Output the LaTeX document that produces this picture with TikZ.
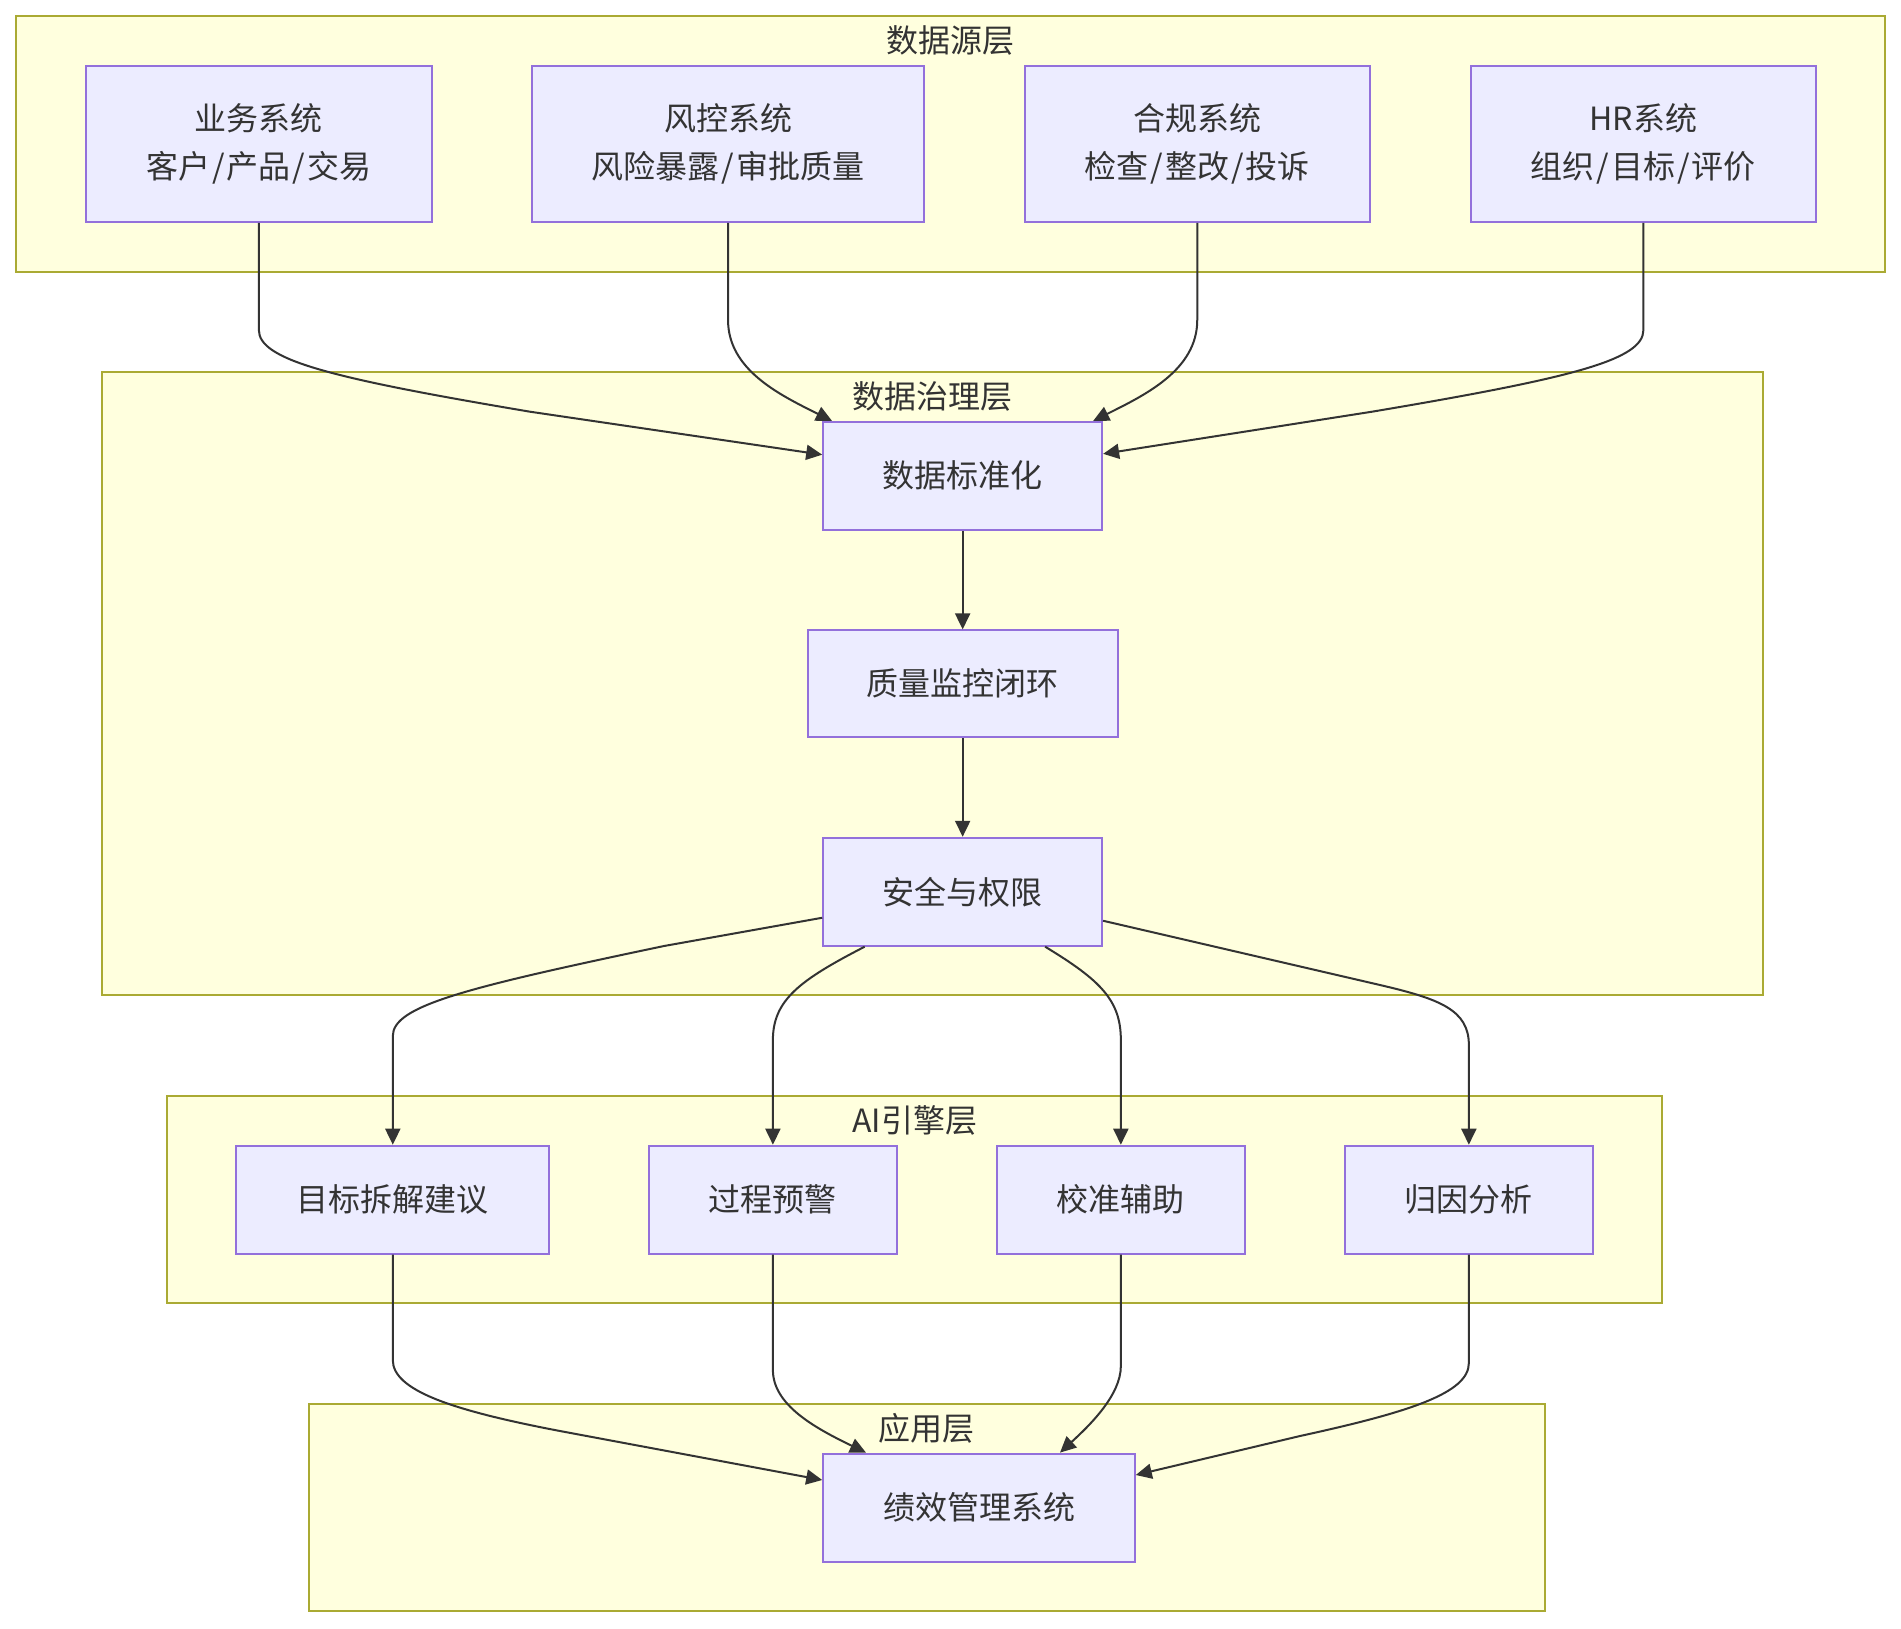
\documentclass[tikz,border=0pt]{standalone}
\usepackage{fontspec}
\setmainfont{Noto Sans CJK SC}
\usetikzlibrary{arrows.meta}
\definecolor{clfill}{HTML}{FFFFDE}
\definecolor{cldraw}{HTML}{AAAA33}
\definecolor{ndfill}{HTML}{ECECFF}
\definecolor{nddraw}{HTML}{9370DB}
\definecolor{txt}{HTML}{333333}
\newcommand\slh{\kern2pt/\kern2pt}
\begin{document}
\begin{tikzpicture}[x=1pt,y=-1pt,
 cluster/.style={rectangle,fill=clfill,draw=cldraw,line width=2pt,inner sep=0pt},
 cltext/.style={text=txt,font=\fontsize{32}{48}\selectfont,inner sep=0pt},
 nd/.style={rectangle,fill=ndfill,draw=nddraw,line width=2pt,text=txt,font=\fontsize{32}{48}\selectfont,align=center,inner sep=0pt},
 edge/.style={draw=txt,line width=2pt,-{Triangle[length=16pt,width=15pt]}}]
\useasboundingbox[fill=white] (0,0) rectangle (1901,1628);
% clusters
\node[cluster,minimum width=1869.5pt,minimum height=255.8pt] (c1) at (950.55,143.7) {};
\node[cluster,minimum width=1661pt,minimum height=623.2pt] (c2) at (932.3,683.8) {};
\node[cluster,minimum width=1494.9pt,minimum height=207.3pt] (c3) at (914.75,1199.65) {};
\node[cluster,minimum width=1235.4pt,minimum height=207.3pt] (c4) at (926.9,1507.65) {};
\node[cltext] (l1) at (950.5,40.3) {数据源层};
\node[cltext] (l2) at (932.3,396.7) {数据治理层};
\node[cltext] (l3) at (914.8,1120.5) {AI引擎层};
\node[cltext] (l4) at (926.9,1428.5) {应用层};
% nodes
\node[nd,minimum width=345.5pt,minimum height=156.4pt] (yw) at (258.85,143.7) {业务系统\\客户\slh 产品\slh 交易};
\node[nd,minimum width=391.7pt,minimum height=156.4pt] (fk) at (728.05,143.7) {风控系统\\风险暴露\slh 审批质量};
\node[nd,minimum width=345.5pt,minimum height=156.4pt] (hg) at (1197.25,143.7) {合规系统\\检查\slh 整改\slh 投诉};
\node[nd,minimum width=345.6pt,minimum height=156.4pt] (hr) at (1643.4,143.7) {HR系统\\组织\slh 目标\slh 评价};
\node[nd,minimum width=278.9pt,minimum height=107.9pt] (std) at (962.65,475.85) {数据标准化};
\node[nd,minimum width=310.3pt,minimum height=106.7pt] (qm) at (962.65,683.75) {质量监控闭环};
\node[nd,minimum width=278.9pt,minimum height=107.9pt] (sec) at (962.65,891.75) {安全与权限};
\node[nd,minimum width=312.8pt,minimum height=107.9pt] (mb) at (392.8,1199.65) {目标拆解建议};
\node[nd,minimum width=248.6pt,minimum height=107.9pt] (gc) at (772.9,1199.65) {过程预警};
\node[nd,minimum width=248.5pt,minimum height=107.9pt] (jz) at (1120.85,1199.65) {校准辅助};
\node[nd,minimum width=248.5pt,minimum height=107.9pt] (gy) at (1468.85,1199.65) {归因分析};
\node[nd,minimum width=311.6pt,minimum height=108pt] (jx) at (979,1507.6) {绩效管理系统};
% edges
\draw[edge] (yw.south) -- (258.85,330) .. controls (258.85,360) and (330,378) .. (530,411.7) -- ([yshift=21.15pt]std.west);
\draw[edge] (fk.south) -- (728.05,320) .. controls (728.05,370) and (780,395) .. ([xshift=-130.65pt]std.north);
\draw[edge] (hg.south) -- (1197.25,320) .. controls (1197.25,370) and (1145,395) .. ([xshift=130.5pt]std.north);
\draw[edge] (hr.south) -- (1643.4,330) .. controls (1643.4,360) and (1572,378) .. (1372,411.7) -- ([yshift=22pt]std.east);
\draw[edge] (std.south) -- (qm.north);
\draw[edge] (qm.south) -- (sec.north);
\draw[edge] ([yshift=-26pt]sec.west) -- (664,946) .. controls (464,988) and (392.8,1006) .. (392.8,1036) -- (mb.north);
\draw[edge] ([xshift=-98pt]sec.south) .. controls (800,980) and (772.9,1000) .. (772.9,1040) -- (gc.north);
\draw[edge] ([xshift=82.5pt]sec.south) .. controls (1100,980) and (1120.85,1000) .. (1120.85,1040) -- (jz.north);
\draw[edge] ([yshift=-29pt]sec.east) -- (1380,985) .. controls (1440,999) and (1468.85,1010) .. (1468.85,1045) -- (gy.north);
\draw[edge] (mb.south) -- (392.8,1360) .. controls (392.8,1390) and (450,1410) .. (560,1431) -- ([yshift=27.6pt]jx.west);
\draw[edge] (gc.south) -- (772.9,1370) .. controls (772.9,1405) and (815,1428) .. ([xshift=-113pt]jx.north);
\draw[edge] (jz.south) -- (1120.85,1366) .. controls (1120.85,1395) and (1090,1425) .. ([xshift=81pt]jx.north);
\draw[edge] (gy.south) -- (1468.85,1363) .. controls (1468.85,1393) and (1410,1412) .. (1300,1436) -- ([yshift=32.6pt]jx.east);
\end{tikzpicture}
\end{document}
